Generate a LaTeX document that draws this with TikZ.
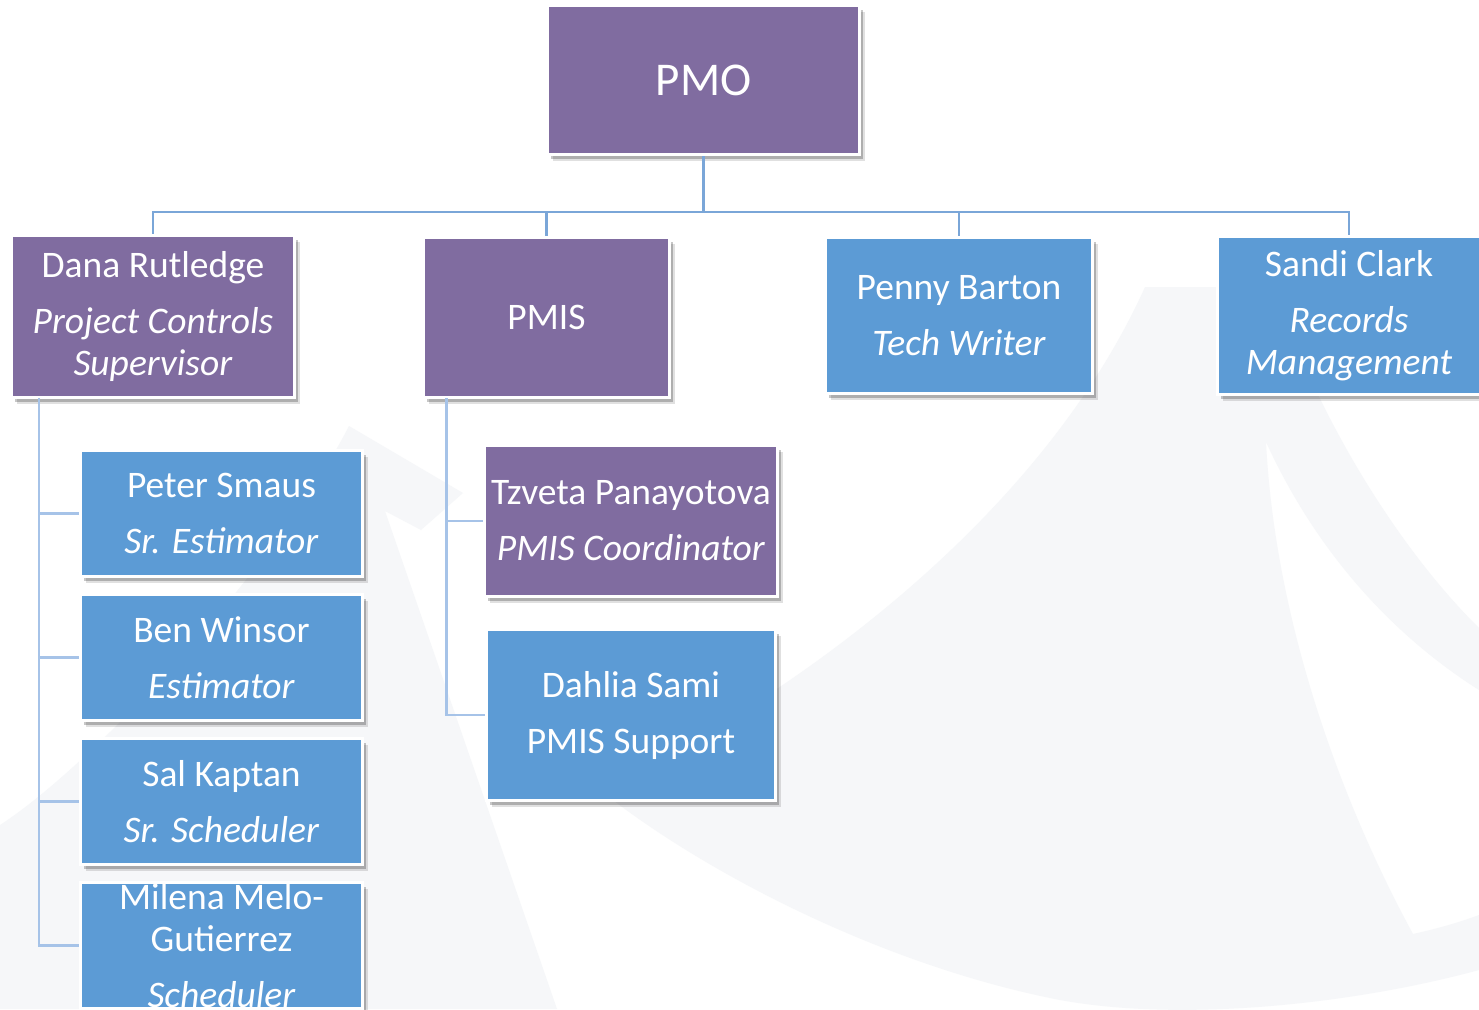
\documentclass[tikz,border=0pt]{standalone}
\usepackage{fontspec}
\setmainfont{Carlito}
\usetikzlibrary{shadows}
\definecolor{pmopurple}{RGB}{128,108,160}
\definecolor{pmoblue}{RGB}{92,155,213}
\definecolor{connmain}{RGB}{122,166,216}
\definecolor{connsub}{RGB}{166,195,232}
\definecolor{wmgray}{RGB}{246,247,249}
\begin{document}
\begin{tikzpicture}[x=1pt,y=-1pt,
  orgbox/.style={draw=white, line width=3pt, inner sep=0pt, align=center, text=white,
     font=\fontsize{37.5}{42}\selectfont,
     drop shadow={shadow xshift=5pt, shadow yshift=-6pt, opacity=0.12, fill=black},
     drop shadow={shadow xshift=3pt, shadow yshift=-4pt, opacity=0.22, fill=black}},
  purplebox/.style={orgbox, fill=pmopurple},
  bluebox/.style={orgbox, fill=pmoblue},
  topline/.style={draw=connmain, line width=2.6pt},
  subline/.style={draw=connsub, line width=2.6pt}]

\fill[white] (0,0) rectangle (1479,1009);
\useasboundingbox (0,0) rectangle (1479,1009);

% faint watermark
\fill[wmgray] (1145,287) -- (1275,287) .. controls (1310,400) and (1390,540) .. (1479,628)
  -- (1479,690) .. controls (1400,640) and (1320,560) .. (1266,442)
  .. controls (1275,620) and (1340,800) .. (1413,934)
  .. controls (1440,928) and (1460,922) .. (1479,915)
  -- (1479,970) .. controls (1350,1005) and (1180,1022) .. (1060,1000)
  .. controls (880,965) and (700,870) .. (600,790)
  .. controls (790,700) and (1040,520) .. (1145,287) -- cycle;
\fill[wmgray] (0,825) .. controls (100,760) and (280,560) .. (349,426)
  -- (463,493) -- (421,530) -- (385,511) -- (557,1009) -- (0,1009) -- cycle;

% nodes
\node[purplebox, minimum width=312pt, minimum height=149pt, font=\fontsize{47}{56}\selectfont] (pmo) at (703.5,80) {PMO};

\node[purplebox, minimum width=283pt, minimum height=162pt] (dana) at (153,316.5)
  {Dana Rutledge\\[14pt]\textit{Project Controls}\\\textit{Supervisor}};
\node[purplebox, minimum width=246pt, minimum height=160pt] (pmis) at (546.5,317.5) {PMIS};
\node[bluebox, minimum width=267pt, minimum height=156pt] (penny) at (959,315.5)
  {Penny Barton\\[14pt]\textit{Tech Writer}};
\node[bluebox, minimum width=263pt, minimum height=158pt] (sandi) at (1349,315.5)
  {Sandi Clark\\[14pt]\textit{Records}\\\textit{Management}};

\node[bluebox, minimum width=282pt, minimum height=126pt] (peter) at (221.5,513.5)
  {Peter Smaus\\[14pt]\textit{Sr. Estimator}};
\node[bluebox, minimum width=282pt, minimum height=126pt] (ben) at (221.5,657.5)
  {Ben Winsor\\[14pt]\textit{Estimator}};
\node[bluebox, minimum width=282pt, minimum height=126pt] (sal) at (221.5,801.5)
  {Sal Kaptan\\[14pt]\textit{Sr. Scheduler}};
\node[bluebox, minimum width=282pt, minimum height=126pt] (milena) at (221.5,945.5)
  {Milena Melo-\\Gutierrez\\[14pt]\textit{Scheduler}};

\node[purplebox, minimum width=293pt, minimum height=151pt] (tzveta) at (631,521)
  {Tzveta Panayotova\\[14pt]\textit{PMIS Coordinator}};
\node[bluebox, minimum width=289pt, minimum height=171pt] (dahlia) at (631,715)
  {Dahlia Sami\\[14pt]PMIS Support};

% connectors
\coordinate (bus) at (0,212);
\foreach \child in {dana,pmis,penny,sandi}
  \draw[topline] (pmo.south) |- (\child.north |- bus) -- (\child.north);

\coordinate (dtrunk) at (39,398);
\foreach \child in {peter,ben,sal,milena}
  \draw[subline] (dtrunk) |- (\child.west);

\coordinate (ptrunk) at (446.5,398);
\foreach \child in {tzveta,dahlia}
  \draw[subline] (ptrunk) |- (\child.west);
\end{tikzpicture}
\end{document}
